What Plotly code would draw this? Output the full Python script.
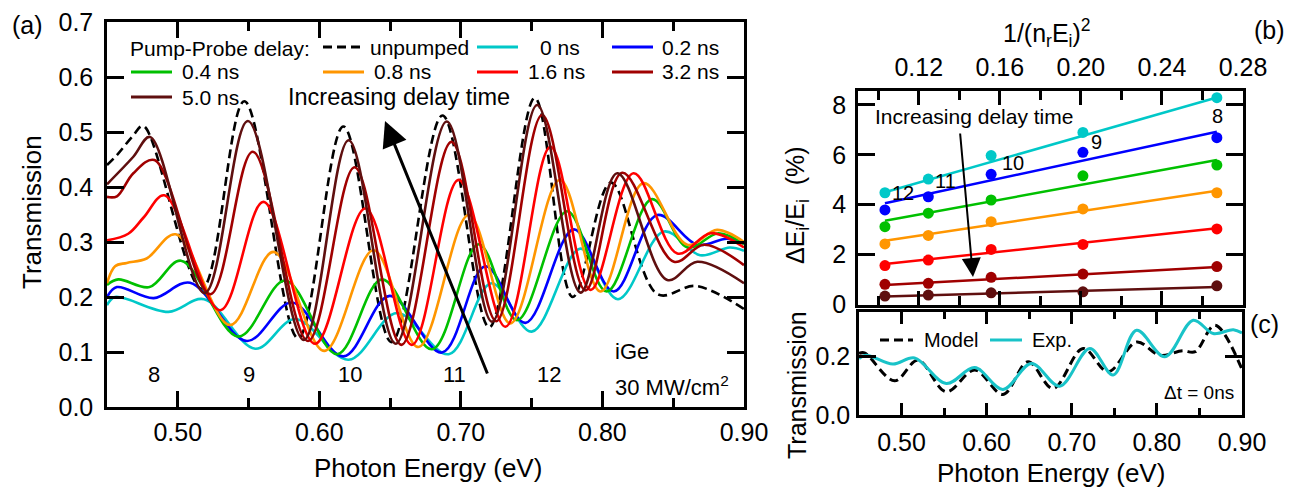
import plotly.graph_objects as go

W, H = 1295, 487
def PX(x):
    return x / W
def PY(y):
    return 1 - y / H

FONT = "Liberation Sans, Arial, sans-serif"

# ---------------- Panel (a): transmission spectra ----------------
delay_labels = ["unpumped", "0 ns", "0.2 ns", "0.4 ns", "0.8 ns", "1.6 ns", "3.2 ns", "5.0 ns"]
delay_colors = ["#000000", "#00C8C8", "#0000FF", "#00C000", "#FF9600", "#FF0000", "#A00000", "#5F0F0F"]

unpumped_x = [0.450, 0.457, 0.468, 0.4757, 0.517, 0.547, 0.585, 0.617, 0.651, 0.687, 0.720, 0.7522, 0.779, 0.806, 0.839, 0.866, 0.900]
unpumped_y = [0.440, 0.458, 0.492, 0.511, 0.215, 0.556, 0.125, 0.510, 0.118, 0.530, 0.145, 0.562, 0.200, 0.408, 0.205, 0.220, 0.178]

t0_x = [0.450, 0.4557, 0.4934, 0.5186, 0.5547, 0.583, 0.6207, 0.6549, 0.6914, 0.7216, 0.750, 0.7845, 0.811, 0.8434, 0.869, 0.890, 0.900]
t0_y = [0.185, 0.200, 0.173, 0.196, 0.106, 0.160, 0.086, 0.171, 0.096, 0.225, 0.137, 0.288, 0.196, 0.319, 0.276, 0.290, 0.284]

t02_x = [0.450, 0.457, 0.483, 0.5087, 0.5488, 0.5806, 0.617, 0.6497, 0.6867, 0.7173, 0.7456, 0.7798, 0.808, 0.8387, 0.867, 0.888, 0.900]
t02_y = [0.200, 0.218, 0.198, 0.226, 0.120, 0.190, 0.092, 0.202, 0.099, 0.256, 0.153, 0.323, 0.210, 0.349, 0.295, 0.306, 0.297]

t04_x = [0.450, 0.458, 0.480, 0.5023, 0.5429, 0.5759, 0.6125, 0.6443, 0.6796, 0.7126, 0.7397, 0.7751, 0.803, 0.835, 0.860, 0.882, 0.900]
t04_y = [0.222, 0.232, 0.218, 0.266, 0.128, 0.230, 0.096, 0.232, 0.105, 0.296, 0.158, 0.356, 0.210, 0.378, 0.290, 0.316, 0.296]

t08_x = [0.450, 0.4557, 0.464, 0.478, 0.4986, 0.537, 0.5676, 0.6035, 0.6383, 0.670, 0.7055, 0.735, 0.7699, 0.7987, 0.829, 0.860, 0.881, 0.900]
t08_y = [0.225, 0.256, 0.262, 0.270, 0.314, 0.149, 0.282, 0.102, 0.285, 0.109, 0.349, 0.152, 0.413, 0.210, 0.407, 0.295, 0.322, 0.300]

t16_x = [0.450, 0.465, 0.476, 0.4905, 0.530, 0.5605, 0.597, 0.6325, 0.6654, 0.6984, 0.7315, 0.7633, 0.7916, 0.822, 0.8529, 0.8765, 0.900]
t16_y = [0.303, 0.315, 0.345, 0.385, 0.176, 0.373, 0.115, 0.361, 0.113, 0.413, 0.146, 0.473, 0.213, 0.425, 0.279, 0.316, 0.290]

t32_x = [0.450, 0.457, 0.4686, 0.4835, 0.523, 0.553, 0.592, 0.6249, 0.658, 0.6933, 0.725, 0.7574, 0.788, 0.814, 0.8505, 0.8717, 0.900]
t32_y = [0.382, 0.383, 0.425, 0.449, 0.205, 0.464, 0.120, 0.436, 0.113, 0.482, 0.156, 0.531, 0.212, 0.426, 0.264, 0.295, 0.258]

t50_x = [0.450, 0.4686, 0.4804, 0.519, 0.5495, 0.589, 0.6207, 0.654, 0.690, 0.722, 0.7539, 0.7845, 0.8105, 0.8458, 0.867, 0.900]
t50_y = [0.405, 0.455, 0.491, 0.207, 0.520, 0.122, 0.485, 0.115, 0.519, 0.155, 0.549, 0.208, 0.425, 0.231, 0.264, 0.225]

curves_x = [unpumped_x, t0_x, t02_x, t04_x, t08_x, t16_x, t32_x, t50_x]
curves_y = [unpumped_y, t0_y, t02_y, t04_y, t08_y, t16_y, t32_y, t50_y]

fringe_labels = ["8", "9", "10", "11", "12"]
fringe_label_x = [0.483, 0.550, 0.622, 0.6955, 0.7625]
fringe_label_y = [0.060, 0.060, 0.060, 0.060, 0.060]

# ---------------- Panel (b): relative shift vs 1/(n_r E_i)^2 ----------------
inv_nE2 = [0.1033, 0.1247, 0.1557, 0.2010, 0.2671]
point_labels = ["12", "11", "10", "9", "8"]
fit_delays = ["0 ns", "0.2 ns", "0.4 ns", "0.8 ns", "1.6 ns", "3.2 ns", "5.0 ns"]
shift_0 = [4.48, 5.03, 5.97, 6.90, 8.29]
shift_02 = [3.79, 4.32, 5.22, 6.10, 6.69]
shift_04 = [3.12, 3.66, 4.19, 5.16, 5.59]
shift_08 = [2.43, 2.77, 3.32, 3.83, 4.48]
shift_16 = [1.56, 1.78, 2.21, 2.41, 3.03]
shift_32 = [0.81, 0.85, 1.09, 1.22, 1.52]
shift_50 = [0.34, 0.38, 0.47, 0.51, 0.75]
shifts = [shift_0, shift_02, shift_04, shift_08, shift_16, shift_32, shift_50]
fit_start = [4.50, 4.06, 3.36, 2.56, 1.62, 0.78, 0.32]
fit_end = [8.30, 6.93, 5.79, 4.56, 3.06, 1.50, 0.70]
fit_x = [inv_nE2[0], inv_nE2[-1]]

# ---------------- Panel (c): model vs experiment at 0 ns ----------------
model_x = [0.450, 0.4565, 0.4918, 0.5192, 0.5526, 0.5859, 0.6192, 0.6486, 0.6780, 0.7133, 0.7427, 0.7761, 0.8035, 0.830, 0.845, 0.8682, 0.900]
model_y = [0.209, 0.211, 0.116, 0.186, 0.079, 0.153, 0.070, 0.181, 0.090, 0.226, 0.147, 0.248, 0.203, 0.218, 0.215, 0.305, 0.155]
exp_x = [0.450, 0.4585, 0.4898, 0.5153, 0.5526, 0.5859, 0.6192, 0.6526, 0.6859, 0.7212, 0.7486, 0.7761, 0.8094, 0.8427, 0.8662, 0.8898, 0.900]
exp_y = [0.192, 0.203, 0.173, 0.194, 0.107, 0.161, 0.087, 0.175, 0.098, 0.226, 0.136, 0.288, 0.198, 0.322, 0.277, 0.290, 0.279]

fig = go.Figure()

for lab, col, xs, ys in zip(delay_labels, delay_colors, curves_x, curves_y):
    fig.add_trace(go.Scatter(
        x=xs, y=ys, mode="lines", name=lab, showlegend=False,
        line=dict(color=col, width=2.6, shape="spline", smoothing=1.0,
                  dash="9px,5px" if lab == "unpumped" else "solid"),
        xaxis="x", yaxis="y"))

for lab, ys, y0, y1 in zip(fit_delays, shifts, fit_start, fit_end):
    col = delay_colors[delay_labels.index(lab)]
    fig.add_trace(go.Scatter(x=fit_x, y=[y0, y1], mode="lines", showlegend=False,
                             line=dict(color=col, width=2.5), xaxis="x2", yaxis="y2"))
    fig.add_trace(go.Scatter(x=inv_nE2, y=ys, mode="markers", showlegend=False,
                             marker=dict(color=col, size=11), xaxis="x2", yaxis="y2"))

fig.add_trace(go.Scatter(x=model_x, y=model_y, mode="lines", name="Model", showlegend=False,
                         line=dict(color="black", width=3, dash="9px,5px", shape="spline"),
                         xaxis="x3", yaxis="y3"))
fig.add_trace(go.Scatter(x=exp_x, y=exp_y, mode="lines", name="Exp.", showlegend=False,
                         line=dict(color="#19C3C8", width=3, shape="spline"),
                         xaxis="x3", yaxis="y3"))

axis_common = dict(showline=True, linecolor="black", linewidth=2.5, mirror="ticks",
                   ticks="inside", tickwidth=2.5, tickcolor="black", showgrid=False,
                   zeroline=False, automargin=False,
                   tickfont=dict(size=25, family=FONT, color="black"))

fig.update_layout(
    template="none",
    width=W, height=H, margin=dict(l=0, r=0, t=0, b=0, pad=0), autosize=False,
    paper_bgcolor="white", plot_bgcolor="white",
    font=dict(family=FONT, color="black", size=20),
    xaxis=dict(axis_common, domain=[PX(107), PX(744)], range=[0.45, 0.90], anchor="y",
               tick0=0.5, dtick=0.1, tickformat=".2f", ticklen=16, ticklabelstandoff=1,
               minor=dict(ticks="inside", dtick=0.05, tick0=0.45, ticklen=9, tickwidth=2.5, tickcolor="black")),
    yaxis=dict(axis_common, domain=[PY(407), PY(22)], range=[0, 0.7], anchor="x",
               tick0=0, dtick=0.1, tickformat=".1f", ticklen=17, ticklabelstandoff=6),
    xaxis2=dict(axis_common, domain=[PX(858), PX(1243)], range=[0.09, 0.28], anchor="y2", side="top",
                tick0=0.12, dtick=0.04, tickformat=".2f", ticklen=14, ticklabelstandoff=2,
                minor=dict(ticks="inside", dtick=0.02, tick0=0.10, ticklen=9, tickwidth=2.5, tickcolor="black")),
    yaxis2=dict(axis_common, domain=[PY(305), PY(91)], range=[-0.02, 8.56], anchor="x2",
                tick0=0, dtick=2, tickformat="d", ticklen=17, ticklabelstandoff=4),
    xaxis3=dict(axis_common, domain=[PX(859), PX(1242)], range=[0.45, 0.90], anchor="y3",
                tick0=0.5, dtick=0.1, tickformat=".2f", ticklen=12, ticklabelstandoff=3,
                minor=dict(ticks="inside", dtick=0.05, tick0=0.45, ticklen=7, tickwidth=2.5, tickcolor="black")),
    yaxis3=dict(axis_common, domain=[PY(415), PY(312)], range=[0, 0.35], anchor="x3",
                tickvals=[0, 0.2], tickformat=".1f", ticklen=17, ticklabelstandoff=1),
)

ann = []
def text(x, y, s, size, xanchor="center", angle=0, xref="paper", yref="paper"):
    ann.append(dict(x=x, y=y, xref=xref, yref=yref, text=s, showarrow=False,
                    xanchor=xanchor, yanchor="middle", textangle=angle,
                    font=dict(size=size, family=FONT, color="black")))

# panel letters
text(PX(27), PY(25), "(a)", 25)
text(PX(1269), PY(30), "(b)", 25)
text(PX(1264), PY(324), "(c)", 25)

# axis titles
text(PX(428), PY(468), "Photon Energy (eV)", 26)
text(PX(32), PY(212), "Transmission", 26, angle=-90)
text(PX(1051), PY(473), "Photon Energy (eV)", 26)
text(PX(1047), PY(33), "1/(n<sub>r</sub>E<sub>i</sub>)<sup>2</sup>", 25)
text(PX(797), PY(205), "ΔE<sub>i</sub>/E<sub>i</sub>  (%)", 25, angle=-90)
text(PX(797), PY(385), "Transmission", 25, angle=-90)

# panel (a) texts
text(PX(128), PY(48), "Pump-Probe delay:", 21, xanchor="left")
text(PX(286), PY(97), "Increasing delay time", 23.5, xanchor="left")
text(PX(613), PY(351), "iGe", 22, xanchor="left")
text(PX(613), PY(386), "30 MW/cm<sup>2</sup>", 22, xanchor="left")
for s, fx, fy in zip(fringe_labels, fringe_label_x, fringe_label_y):
    text(fx, fy, s, 22, xref="x", yref="y")

# manual legend of panel (a)
legend_rows = [47, 72, 97]
legend_cols = [131, 323, 477, 612]
legend_pos = {"unpumped": (0, 1, 368), "0 ns": (0, 2, 538), "0.2 ns": (0, 3, 660),
              "0.4 ns": (1, 0, 180), "0.8 ns": (1, 1, 372), "1.6 ns": (1, 2, 526),
              "3.2 ns": (1, 3, 660), "5.0 ns": (2, 0, 180)}
shapes = []
for lab, col in zip(delay_labels, delay_colors):
    r, c, tx = legend_pos[lab]
    yy = legend_rows[r]
    shapes.append(dict(type="line", xref="paper", yref="paper",
                       x0=PX(legend_cols[c]), x1=PX(legend_cols[c] + 41), y0=PY(yy), y1=PY(yy),
                       line=dict(color=col, width=3, dash="9px,5px" if lab == "unpumped" else "solid")))
    text(PX(tx), PY(yy), lab, 21, xanchor="left")

# panel (b) texts
text(PX(873), PY(117), "Increasing delay time", 21, xanchor="left")
label_dx = [18, 17, 22, 14, 1]
label_dy = [0, -2, -7, -10, -18]
for s, xv, yv, dx, dy in zip(point_labels, inv_nE2, shift_0, label_dx, label_dy):
    ann.append(dict(x=xv, y=yv, xref="x2", yref="y2", text=s, showarrow=False,
                    xshift=dx, yshift=dy, font=dict(size=20, family=FONT, color="black")))

# panel (c) legend and note
shapes.append(dict(type="line", xref="paper", yref="paper", x0=PX(880), x1=PX(913), y0=PY(340), y1=PY(340),
                   line=dict(color="black", width=3, dash="9px,5px")))
shapes.append(dict(type="line", xref="paper", yref="paper", x0=PX(990), x1=PX(1022), y0=PY(340), y1=PY(340),
                   line=dict(color="#19C3C8", width=3)))
text(PX(922), PY(340), "Model", 20, xanchor="left")
text(PX(1030), PY(340), "Exp.", 20, xanchor="left")
text(PX(1162), PY(392), "Δt = 0ns", 19, xanchor="left")

# arrows
ann.append(dict(x=PX(385), y=PY(121), xref="paper", yref="paper", ax=103, ay=254,
                axref="pixel", ayref="pixel", showarrow=True, arrowhead=2, arrowsize=1.7,
                arrowwidth=3, arrowcolor="black", text=""))
ann.append(dict(x=PX(973), y=PY(277), xref="paper", yref="paper", ax=-13, ay=-145,
                axref="pixel", ayref="pixel", showarrow=True, arrowhead=2, arrowsize=1.9,
                arrowwidth=2, arrowcolor="black", text=""))

fig.update_layout(annotations=ann, shapes=shapes)
fig.write_html("out.html",
               config={"displayModeBar": False},
               post_script="document.body.style.margin='0';document.body.style.padding='0';"
                           "document.documentElement.style.overflow='hidden';")
